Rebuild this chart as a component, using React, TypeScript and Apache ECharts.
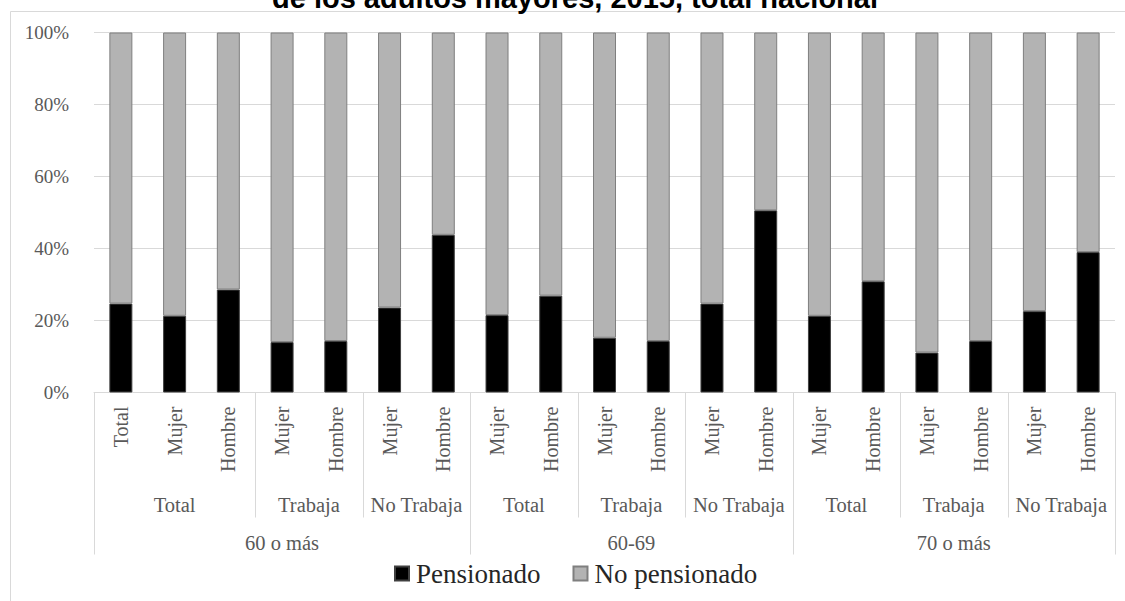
import React, { useEffect, useRef } from "react";
import * as echarts from "echarts";

// Categories along the horizontal axis (innermost level)
const categories = [
  "Total", "Mujer", "Hombre", "Mujer", "Hombre", "Mujer", "Hombre",
  "Mujer", "Hombre", "Mujer", "Hombre", "Mujer", "Hombre",
  "Mujer", "Hombre", "Mujer", "Hombre", "Mujer", "Hombre",
];

// Middle level: work status groups and how many categories each spans
const workLabels = ["Total", "Trabaja", "No Trabaja", "Total", "Trabaja", "No Trabaja", "Total", "Trabaja", "No Trabaja"];
const workSpans = [3, 2, 2, 2, 2, 2, 2, 2, 2];

// Outer level: age groups
const ageLabels = ["60 o más", "60-69", "70 o más"];
const ageSpans = [7, 6, 6];

// Shares (%) per category
const pensionado = [24.7, 21.3, 28.6, 14.0, 14.3, 23.6, 43.8, 21.5, 26.9, 15.2, 14.3, 24.7, 50.6, 21.3, 30.9, 11.1, 14.3, 22.6, 39.0];
const noPensionado = [75.3, 78.7, 71.4, 86.0, 85.7, 76.4, 56.2, 78.5, 73.1, 84.8, 85.7, 75.3, 49.4, 78.7, 69.1, 88.9, 85.7, 77.4, 61.0];

const yTicks = [0, 20, 40, 60, 80, 100];

const SERIF = "'Liberation Serif', 'Times New Roman', serif";
const AXIS_GREY = "#595959";
const LINE_GREY = "#d9d9d9";

export default function App() {
  const ref = useRef<HTMLDivElement>(null);

  useEffect(() => {
    if (!ref.current) return;
    const chart = echarts.init(ref.current, undefined, { renderer: "svg" });

    chart.setOption({
      animation: false,
      backgroundColor: "#ffffff",
      grid: { left: 94, right: 10, top: 32.5, bottom: 208.5, containLabel: false },
      legend: {
        top: 555,
        left: 389,
        itemWidth: 14,
        itemHeight: 14,
        itemGap: 32,
        icon: "rect",
        textStyle: { fontFamily: SERIF, fontSize: 27, color: "#262626", padding: [0, 0, 0, 2] },
        data: ["Pensionado", "No pensionado"],
      },
      xAxis: {
        type: "category",
        data: categories,
        axisLine: { lineStyle: { color: LINE_GREY, width: 1 } },
        axisTick: { show: false },
        axisLabel: {
          rotate: 90,
          interval: 0,
          margin: 14,
          fontFamily: SERIF,
          fontSize: 20,
          color: AXIS_GREY,
        },
      },
      yAxis: {
        type: "value",
        min: yTicks[0],
        max: yTicks[yTicks.length - 1],
        interval: 20,
        axisLine: { show: false },
        axisTick: { show: false },
        splitLine: { lineStyle: { color: LINE_GREY, width: 1 } },
        axisLabel: {
          margin: 25,
          formatter: "{value}%",
          fontFamily: SERIF,
          fontSize: 19,
          color: AXIS_GREY,
        },
      },
      series: [
        {
          name: "Pensionado",
          type: "bar",
          stack: "share",
          barWidth: 23,
          data: pensionado,
          itemStyle: { color: "#000000", borderColor: "#404040", borderWidth: 1 },
        },
        {
          name: "No pensionado",
          type: "bar",
          stack: "share",
          barWidth: 23,
          data: noPensionado,
          itemStyle: { color: "#b3b3b3", borderColor: "#7f7f7f", borderWidth: 1 },
        },
      ],
    });

    // Multi-level category labels and separators, placed with the axis scale
    const px = (i: number) => chart.convertToPixel({ xAxisIndex: 0 }, i) as number;
    const band = px(1) - px(0);
    const edge = (i: number) => px(i) - band / 2;
    const axisY = chart.convertToPixel({ yAxisIndex: 0 }, 0) as number;

    const graphics: any[] = [];
    const groupText = (text: string, x: number, y: number) => ({
      type: "text",
      x,
      y,
      silent: true,
      style: {
        text,
        fill: AXIS_GREY,
        font: `20.5px ${SERIF}`,
        align: "center",
        verticalAlign: "middle",
      },
    });
    const vline = (x: number, len: number) => ({
      type: "line",
      silent: true,
      shape: { x1: x, y1: axisY, x2: x, y2: axisY + len },
      style: { stroke: LINE_GREY, lineWidth: 1 },
    });

    let start = 0;
    workLabels.forEach((label, k) => {
      const end = start + workSpans[k];
      graphics.push(groupText(label, (edge(start) + edge(end)) / 2, axisY + 112));
      graphics.push(vline(Math.round(edge(end)) + 0.5, 125));
      start = end;
    });

    start = 0;
    graphics.push(vline(Math.round(edge(0)) + 0.5, 162));
    ageLabels.forEach((label, k) => {
      const end = start + ageSpans[k];
      graphics.push(groupText(label, (edge(start) + edge(end)) / 2, axisY + 150.5));
      graphics.push(vline(Math.round(edge(end)) + 0.5, 162));
      start = end;
    });

    // Chart frame (only its top and left edges fall inside the view)
    graphics.push({
      type: "rect",
      silent: true,
      shape: { x: 10.5, y: 11.5, width: 1200, height: 700 },
      style: { fill: "none", stroke: LINE_GREY, lineWidth: 1 },
      z: -1,
    });

    // Title line, partly above the top of the view
    graphics.push({
      type: "text",
      x: 575,
      y: -2,
      silent: true,
      style: {
        text: "de los adultos mayores, 2015, total nacional",
        fill: "#000000",
        font: "bold 29px 'Liberation Sans', Arial, sans-serif",
        align: "center",
        verticalAlign: "middle",
      },
    });

    chart.setOption({ graphic: graphics });

    return () => chart.dispose();
  }, []);

  return (
    <div
      ref={ref}
      style={{ position: "fixed", left: 0, top: 0, width: 1125, height: 601, background: "#fff" }}
    />
  );
}
